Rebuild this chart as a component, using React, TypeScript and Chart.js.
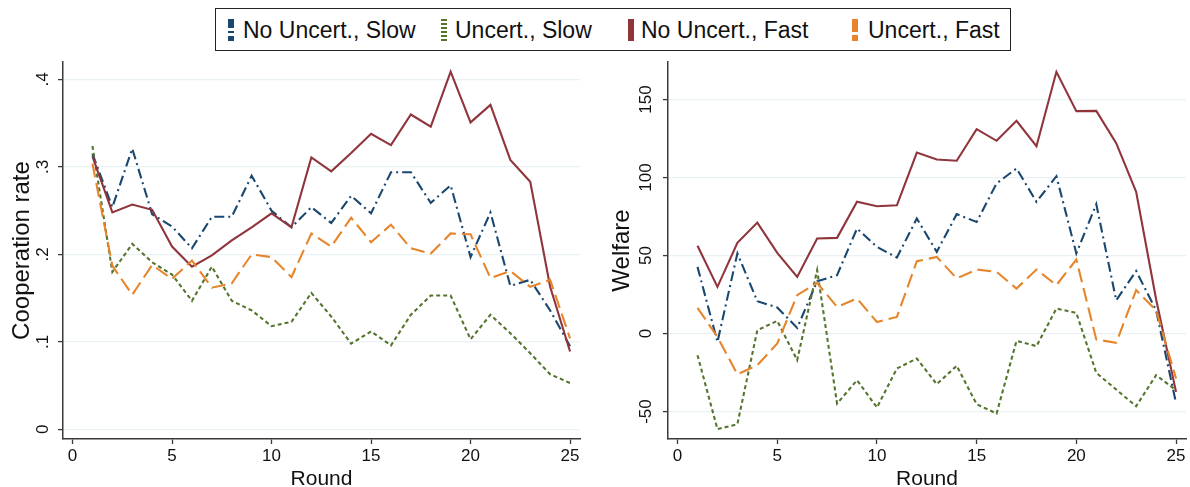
import React, { useEffect, useRef } from 'react';
import { Chart, registerables } from 'chart.js';

Chart.register(...registerables);

// ---------- data ----------
const rounds = [1, 2, 3, 4, 5, 6, 7, 8, 9, 10, 11, 12, 13, 14, 15, 16, 17, 18, 19, 20, 21, 22, 23, 24, 25];
const seriesNames = ['No Uncert., Slow', 'Uncert., Slow', 'No Uncert., Fast', 'Uncert., Fast'];

const coopNoUncSlow = [0.315, 0.254, 0.321, 0.246, 0.232, 0.207, 0.243, 0.243, 0.290, 0.250, 0.231, 0.254, 0.236, 0.267, 0.247, 0.294, 0.294, 0.259, 0.279, 0.197, 0.248, 0.164, 0.171, 0.136, 0.095];
const coopUncSlow = [0.324, 0.180, 0.212, 0.191, 0.177, 0.147, 0.186, 0.147, 0.136, 0.118, 0.123, 0.156, 0.129, 0.098, 0.112, 0.096, 0.131, 0.153, 0.153, 0.103, 0.131, 0.110, 0.087, 0.063, 0.053];
const coopNoUncFast = [0.312, 0.248, 0.257, 0.251, 0.209, 0.186, 0.199, 0.216, 0.231, 0.247, 0.231, 0.311, 0.295, 0.316, 0.338, 0.325, 0.360, 0.346, 0.409, 0.351, 0.371, 0.308, 0.283, 0.163, 0.089];
const coopUncFast = [0.304, 0.187, 0.154, 0.188, 0.172, 0.193, 0.162, 0.167, 0.200, 0.197, 0.174, 0.224, 0.209, 0.242, 0.214, 0.234, 0.207, 0.201, 0.224, 0.223, 0.173, 0.181, 0.163, 0.171, 0.104];

const welfNoUncSlow = [42.7, -5.4, 51.3, 20.7, 16.7, 3.6, 33.5, 37.4, 67.3, 55.5, 48.7, 73.7, 52.3, 76.5, 71.5, 96.2, 105.8, 84.4, 100.8, 51.3, 82.9, 21.3, 40.1, 14.9, -44.5];
const welfUncSlow = [-13.9, -61.3, -58.1, 2.1, 8.1, -17.1, 40.6, -44.9, -29.9, -47.4, -22.4, -16.0, -32.5, -20.7, -45.3, -51.3, -4.7, -8.1, 16.0, 13.2, -25.2, -35.9, -46.6, -26.7, -36.3];
const welfNoUncFast = [56.2, 29.9, 58.1, 71.1, 51.7, 36.3, 60.9, 61.3, 84.4, 81.6, 82.2, 116.0, 111.5, 110.7, 131.0, 123.5, 136.3, 120.0, 167.7, 142.5, 142.7, 122.0, 90.8, 22.0, -37.4];
const welfUncFast = [16.4, -2.2, -26.1, -20.3, -6.4, 24.6, 32.4, 17.1, 22.4, 7.4, 10.6, 46.3, 49.1, 35.3, 41.0, 39.5, 28.8, 41.0, 31.0, 47.4, -3.8, -6.0, 27.8, 14.9, -28.8];

const xTickValues = [0, 5, 10, 15, 20, 25];
const coopYTicks = [0, 0.1, 0.2, 0.3, 0.4];
const coopYLabels = ['0', '.1', '.2', '.3', '.4'];
const welfYTicks = [-50, 0, 50, 100, 150];
const welfYLabels = ['-50', '0', '50', '100', '150'];

// ---------- styles ----------
const FONT = '"Liberation Sans", Arial, sans-serif';
const COLORS = ['#1A476F', '#55752F', '#90353B', '#E6852C'];
const DASHES = [[10, 4, 2, 4], [4, 3], [], [14, 6]];
const ORDERS = [4, 3, 2, 1];
const AXIS = '#3a3a3a';
const GRID = '#EAF1F4';

const rotatedYLabels = {
  id: 'rotatedYLabels',
  afterDraw(chart: any, _args: any, opts: any) {
    const scale = chart.scales.y;
    const ctx = chart.ctx;
    ctx.save();
    ctx.font = `17px ${FONT}`;
    ctx.fillStyle = '#111';
    ctx.textAlign = 'center';
    ctx.textBaseline = 'middle';
    (opts.values as number[]).forEach((v, i) => {
      const y = scale.getPixelForValue(v);
      ctx.save();
      ctx.translate(chart.chartArea.left - opts.offset, y);
      ctx.rotate(-Math.PI / 2);
      ctx.fillText(opts.labels[i], 0, 0);
      ctx.restore();
    });
    ctx.restore();
  },
};

interface PanelProps {
  left: number;
  series: number[][];
  yTicks: number[];
  yLabels: string[];
  yMin: number;
  yMax: number;
  yTitle: string;
  yScaleWidth: number;
  padRight: number;
  yTitlePad: number;
  yLabelOffset: number;
}

function Panel(p: PanelProps) {
  const ref = useRef<HTMLCanvasElement>(null);
  useEffect(() => {
    if (!ref.current) return;
    const chart = new Chart(ref.current, {
      type: 'line',
      data: {
        datasets: p.series.map((vals, i) => ({
          label: seriesNames[i],
          data: rounds.map((r, j) => ({ x: r, y: vals[j] })),
          borderColor: COLORS[i],
          backgroundColor: COLORS[i],
          borderWidth: 2.1,
          borderDash: DASHES[i],
          pointRadius: 0,
          tension: 0,
          fill: false,
          order: ORDERS[i],
        })),
      },
      options: {
        animation: false,
        responsive: false,
        devicePixelRatio: 1,
        layout: { padding: { top: 62, right: p.padRight, bottom: 0, left: 0 } },
        plugins: {
          legend: { display: false },
          tooltip: { enabled: false },
          rotatedYLabels: { values: p.yTicks, labels: p.yLabels, offset: p.yLabelOffset },
        } as any,
        scales: {
          x: {
            type: 'linear',
            min: -0.48,
            max: 25.5,
            afterBuildTicks: (s: any) => { s.ticks = xTickValues.map((v) => ({ value: v })); },
            afterFit: (s: any) => { s.height = 48; },
            grid: { drawOnChartArea: false, drawTicks: true, tickLength: 5, tickColor: AXIS, tickWidth: 1.3 },
            border: { display: true, color: AXIS, width: 1.5 },
            ticks: { font: { family: FONT, size: 17 }, color: '#111', padding: 2, maxRotation: 0, autoSkip: false },
            title: { display: true, text: 'Round', font: { family: FONT, size: 21, lineHeight: 0.75 }, color: '#111', padding: { top: 0, bottom: 0 } },
          },
          y: {
            type: 'linear',
            min: p.yMin,
            max: p.yMax,
            afterBuildTicks: (s: any) => { s.ticks = p.yTicks.map((v) => ({ value: v })); },
            afterFit: (s: any) => { s.width = p.yScaleWidth; },
            grid: { color: GRID, lineWidth: 1.2, drawTicks: true, tickLength: 5, tickColor: AXIS, tickWidth: 1.3 },
            border: { display: true, color: AXIS, width: 1.5 },
            ticks: { display: false },
            title: { display: true, text: p.yTitle, font: { family: FONT, size: 24, lineHeight: 1 }, color: '#111', padding: { top: p.yTitlePad, bottom: 0 } },
          },
        },
      },
      plugins: [rotatedYLabels],
    } as any);
    return () => chart.destroy();
  }, []);
  return (
    <canvas
      ref={ref}
      width={595}
      height={487}
      style={{ position: 'absolute', left: p.left, top: 0, width: 595, height: 487 }}
    />
  );
}

function LegendSymbol({ idx, x }: { idx: number; x: number }) {
  const c = COLORS[idx];
  let bg = '';
  if (idx === 0) {
    bg = `linear-gradient(to bottom, ${c} 0 9px, transparent 9px 12px, ${c} 12px 14px, transparent 14px 17px, ${c} 17px 22px)`;
  } else if (idx === 1) {
    bg = `repeating-linear-gradient(to bottom, ${c} 0 2.5px, transparent 2.5px 4px)`;
  } else if (idx === 2) {
    bg = c;
  } else {
    bg = `linear-gradient(to bottom, ${c} 0 13px, transparent 13px 16px, ${c} 16px 22px)`;
  }
  return <div style={{ position: 'absolute', left: x, top: 19, width: 6, height: 22, background: bg }} />;
}

export default function App() {
  const symX = [228, 441, 628, 852];
  const textX = [243, 455, 641, 868];
  return (
    <div style={{ position: 'absolute', left: 0, top: 0, width: 1190, height: 487, background: '#fff', overflow: 'hidden' }}>
      <Panel
        left={0}
        series={[coopNoUncSlow, coopUncSlow, coopNoUncFast, coopUncFast]}
        yTicks={coopYTicks}
        yLabels={coopYLabels}
        yMin={-0.011}
        yMax={0.42}
        yTitle="Cooperation rate"
        yScaleWidth={63}
        padRight={15}
        yTitlePad={10.5}
        yLabelOffset={19.5}
      />
      <Panel
        left={595}
        series={[welfNoUncSlow, welfUncSlow, welfNoUncFast, welfUncFast]}
        yTicks={welfYTicks}
        yLabels={welfYLabels}
        yMin={-67.6}
        yMax={174}
        yTitle="Welfare"
        yScaleWidth={73}
        padRight={4}
        yTitlePad={15}
        yLabelOffset={22}
      />
      <div style={{ position: 'absolute', left: 215, top: 8, width: 794, height: 41, border: '1.5px solid #222', background: '#fff' }} />
      {seriesNames.map((n, i) => (
        <React.Fragment key={n}>
          <LegendSymbol idx={i} x={symX[i]} />
          <div style={{ position: 'absolute', left: textX[i], top: 16, fontFamily: FONT, fontSize: 23, lineHeight: '28px', color: '#111', whiteSpace: 'nowrap' }}>{n}</div>
        </React.Fragment>
      ))}
    </div>
  );
}
